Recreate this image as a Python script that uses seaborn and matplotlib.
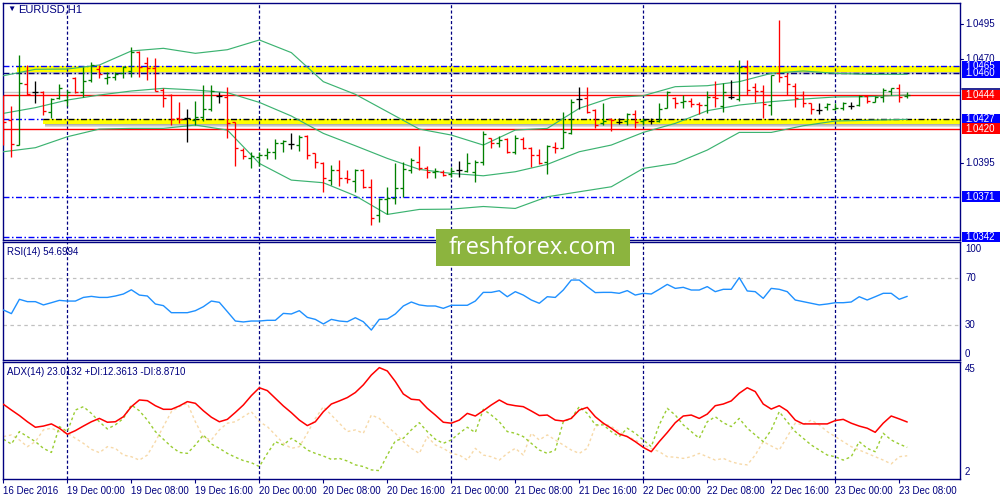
import numpy as np
import matplotlib
matplotlib.use("Agg")
import matplotlib.pyplot as plt
import matplotlib.transforms as mtransforms
from matplotlib.patches import Rectangle
import seaborn as sns

# === Data (EURUSD H1, bars 16 Dec 16:00 .. 23 Dec 09:00)
open_ = [1.04261, 1.04259, 1.04081, 1.04518, 1.04460, 1.04465, 1.04316, 1.04417, 1.04405, 1.04561,
         1.04460, 1.04549, 1.04628, 1.04566, 1.04573, 1.04597, 1.04614, 1.04748, 1.04669, 1.04633,
         1.04477, 1.04441, 1.04273, 1.04278, 1.04261, 1.04285, 1.04340, 1.04436, 1.04429, 1.04249,
         1.04045, 1.03990, 1.03997, 1.04009, 1.04033, 1.04093, 1.04086, 1.04081, 1.04148, 1.04021,
         1.03954, 1.03829, 1.03901, 1.03846, 1.03824, 1.03901, 1.03781, 1.03577, 1.03690, 1.03697,
         1.03769, 1.03899, 1.03961, 1.03918, 1.03884, 1.03889, 1.03870, 1.03901, 1.03894, 1.03889,
         1.03956, 1.04129, 1.04093, 1.04124, 1.04033, 1.04124, 1.04062, 1.04009, 1.03961, 1.04069,
         1.04057, 1.04165, 1.04412, 1.04422, 1.04333, 1.04237, 1.04268, 1.04249, 1.04256, 1.04302,
         1.04254, 1.04254, 1.04254, 1.04350, 1.04422, 1.04388, 1.04398, 1.04374, 1.04369, 1.04429,
         1.04364, 1.04424, 1.04412, 1.04645, 1.04501, 1.04470, 1.04369, 1.04597, 1.04578, 1.04508,
         1.04441, 1.04381, 1.04333, 1.04357, 1.04340, 1.04350, 1.04364, 1.04369, 1.04434, 1.04393,
         1.04429, 1.04470, 1.04494, 1.04431]
high_ = [1.04441, 1.04364, 1.04729, 1.04657, 1.04542, 1.04470, 1.04417, 1.04518, 1.04475, 1.04568,
         1.04645, 1.04676, 1.04657, 1.04604, 1.04604, 1.04650, 1.04784, 1.04760, 1.04717, 1.04705,
         1.04494, 1.04446, 1.04388, 1.04338, 1.04398, 1.04513, 1.04513, 1.04460, 1.04501, 1.04249,
         1.04057, 1.04033, 1.04033, 1.04057, 1.04122, 1.04117, 1.04165, 1.04153, 1.04153, 1.04021,
         1.03961, 1.03937, 1.03973, 1.03901, 1.03906, 1.03906, 1.03834, 1.03697, 1.03781, 1.03954,
         1.03961, 1.03985, 1.04074, 1.03932, 1.03918, 1.03901, 1.03925, 1.03966, 1.04026, 1.03973,
         1.04182, 1.04134, 1.04148, 1.04134, 1.04153, 1.04136, 1.04069, 1.04052, 1.04081, 1.04105,
         1.04316, 1.04412, 1.04501, 1.04501, 1.04338, 1.04381, 1.04278, 1.04273, 1.04309, 1.04333,
         1.04278, 1.04273, 1.04386, 1.04470, 1.04429, 1.04441, 1.04417, 1.04388, 1.04470, 1.04544,
         1.04525, 1.04549, 1.04693, 1.04693, 1.04525, 1.04513, 1.04585, 1.04981, 1.04597, 1.04525,
         1.04470, 1.04386, 1.04381, 1.04381, 1.04386, 1.04388, 1.04393, 1.04441, 1.04441, 1.04436,
         1.04494, 1.04494, 1.04520, 1.04465]
low_ = [1.04081, 1.03997, 1.04081, 1.04441, 1.04386, 1.04297, 1.04278, 1.04412, 1.04364, 1.04458,
        1.04429, 1.04537, 1.04566, 1.04518, 1.04549, 1.04561, 1.04573, 1.04573, 1.04549, 1.04470,
        1.04357, 1.04225, 1.04237, 1.04100, 1.04225, 1.04254, 1.04328, 1.04381, 1.04129, 1.03932,
        1.03978, 1.03918, 1.03932, 1.03978, 1.03978, 1.04033, 1.04050, 1.04038, 1.03980, 1.03918,
        1.03745, 1.03793, 1.03788, 1.03805, 1.03745, 1.03769, 1.03505, 1.03529, 1.03584, 1.03656,
        1.03709, 1.03877, 1.03901, 1.03846, 1.03846, 1.03860, 1.03853, 1.03853, 1.03889, 1.03817,
        1.03937, 1.04057, 1.04069, 1.04021, 1.04014, 1.04050, 1.03925, 1.03944, 1.03875, 1.04021,
        1.04057, 1.04163, 1.04340, 1.04309, 1.04201, 1.04225, 1.04182, 1.04230, 1.04225, 1.04201,
        1.04225, 1.04230, 1.04249, 1.04345, 1.04350, 1.04345, 1.04357, 1.04304, 1.04314, 1.04357,
        1.04316, 1.04410, 1.04398, 1.04441, 1.04388, 1.04278, 1.04297, 1.04537, 1.04441, 1.04357,
        1.04357, 1.04304, 1.04302, 1.04333, 1.04333, 1.04333, 1.04340, 1.04364, 1.04386, 1.04388,
        1.04388, 1.04441, 1.04393, 1.04422]
close_ = [1.04244, 1.04088, 1.04525, 1.04448, 1.04460, 1.04328, 1.04410, 1.04494, 1.04460, 1.04465,
          1.04544, 1.04657, 1.04595, 1.04571, 1.04590, 1.04640, 1.04753, 1.04640, 1.04633, 1.04470,
          1.04422, 1.04268, 1.04268, 1.04278, 1.04285, 1.04340, 1.04470, 1.04436, 1.04237, 1.04057,
          1.04002, 1.03999, 1.04009, 1.04033, 1.04093, 1.04110, 1.04086, 1.04141, 1.04009, 1.03961,
          1.03841, 1.03901, 1.03846, 1.03834, 1.03901, 1.03781, 1.03553, 1.03690, 1.03702, 1.03769,
          1.03908, 1.03971, 1.03913, 1.03889, 1.03894, 1.03865, 1.03894, 1.03901, 1.03949, 1.03961,
          1.04158, 1.04093, 1.04117, 1.04033, 1.04129, 1.04057, 1.04009, 1.03949, 1.04076, 1.04057,
          1.04177, 1.04388, 1.04412, 1.04316, 1.04225, 1.04254, 1.04259, 1.04249, 1.04302, 1.04249,
          1.04261, 1.04254, 1.04338, 1.04460, 1.04381, 1.04398, 1.04374, 1.04369, 1.04429, 1.04422,
          1.04465, 1.04424, 1.04645, 1.04477, 1.04472, 1.04374, 1.04585, 1.04573, 1.04518, 1.04417,
          1.04381, 1.04340, 1.04333, 1.04374, 1.04350, 1.04381, 1.04364, 1.04436, 1.04398, 1.04429,
          1.04477, 1.04489, 1.04429, 1.04441]

# Bollinger bands, read every 4 bars
bb_x = [0, 4, 8, 12, 16, 20, 24, 28, 32, 36, 40, 44, 48, 52, 56, 60, 64, 68, 72, 76,
        80, 84, 88, 92, 96, 100, 104, 108, 113]
bb_upper = [1.04580, 1.04626, 1.04628, 1.04657, 1.04758, 1.04777, 1.04741, 1.04767, 1.04837, 1.04746,
            1.04537, 1.04446, 1.04321, 1.04196, 1.04153, 1.04081, 1.04189, 1.04201, 1.04345, 1.04422,
            1.04436, 1.04501, 1.04508, 1.04537, 1.04597, 1.04614, 1.04597, 1.04590, 1.04590]
bb_middle = [1.04309, 1.04350, 1.04405, 1.04441, 1.04470, 1.04489, 1.04477, 1.04458, 1.04388, 1.04290,
             1.04165, 1.04076, 1.03985, 1.03906, 1.03877, 1.03860, 1.03889, 1.03942, 1.04033, 1.04081,
             1.04172, 1.04237, 1.04328, 1.04369, 1.04393, 1.04412, 1.04427, 1.04429, 1.04441]
bb_lower = [1.04033, 1.04062, 1.04141, 1.04196, 1.04201, 1.04201, 1.04225, 1.04189, 1.03949, 1.03829,
            1.03810, 1.03716, 1.03582, 1.03618, 1.03620, 1.03639, 1.03625, 1.03709, 1.03745, 1.03781,
            1.03913, 1.03949, 1.04045, 1.04172, 1.04172, 1.04220, 1.04254, 1.04259, 1.04266]

rsi = [43.1, 40.0, 52.2, 50.2, 50.2, 47.4, 49.3, 51.3, 50.7, 50.7,
       53.8, 54.7, 53.8, 53.8, 55.0, 56.7, 60.3, 55.8, 55.0, 48.2,
       46.8, 40.8, 40.8, 40.8, 42.5, 45.9, 50.7, 49.6, 41.7, 33.7,
       32.9, 33.7, 33.7, 34.3, 34.3, 40.2, 39.7, 42.5, 36.8, 35.1,
       31.2, 35.1, 33.7, 33.1, 36.5, 33.1, 26.0, 35.1, 35.4, 39.7,
       46.5, 49.9, 47.4, 46.5, 46.5, 44.5, 47.1, 47.1, 47.1, 50.7,
       58.1, 58.1, 59.5, 54.4, 58.7, 55.8, 51.6, 48.8, 54.4, 53.8,
       60.1, 68.6, 68.6, 63.0, 57.9, 58.1, 58.1, 57.3, 59.6, 55.8,
       57.3, 56.7, 60.7, 64.9, 61.5, 62.4, 60.1, 60.1, 63.0, 58.7,
       60.7, 60.7, 70.6, 59.3, 58.7, 53.0, 61.5, 60.7, 58.7, 51.6,
       50.2, 48.8, 47.4, 48.2, 49.3, 49.3, 49.9, 54.4, 51.6, 54.4,
       57.3, 57.3, 52.2, 54.7]

adx = [30.4, 28.0, 25.7, 23.1, 20.8, 21.3, 22.2, 20.4, 17.9, 19.4,
       21.3, 23.1, 24.5, 22.9, 23.1, 25.2, 29.4, 32.2, 31.9, 29.8,
       28.3, 28.3, 29.7, 31.5, 30.8, 27.7, 25.0, 23.1, 24.1, 27.0,
       30.1, 34.0, 37.3, 36.1, 32.9, 29.7, 26.9, 23.8, 21.5, 23.1,
       27.3, 30.5, 31.8, 33.2, 35.3, 38.5, 42.6, 45.7, 44.3, 39.9,
       34.7, 32.5, 32.2, 28.7, 25.9, 22.9, 22.5, 23.8, 26.6, 25.5,
       27.7, 30.1, 32.2, 30.4, 29.8, 29.4, 27.6, 25.7, 25.9, 23.8,
       23.4, 24.5, 28.0, 29.1, 25.2, 22.5, 20.4, 18.0, 16.9, 14.8,
       12.4, 10.6, 14.8, 18.6, 22.7, 25.5, 25.9, 24.5, 26.3, 29.8,
       30.5, 31.8, 35.0, 37.3, 35.7, 30.5, 28.4, 29.8, 27.7, 23.8,
       22.2, 22.2, 22.2, 22.2, 23.6, 24.1, 22.5, 21.3, 20.4, 18.7,
       22.5, 25.5, 24.3, 23.0]
plus_di = [15.8, 13.8, 19.0, 16.9, 14.8, 12.0, 10.3, 21.1, 19.0, 28.0,
           29.4, 26.6, 23.1, 20.1, 21.8, 24.5, 30.1, 27.7, 23.8, 19.0,
           15.8, 12.7, 10.3, 9.9, 13.4, 17.6, 13.8, 12.0, 9.9, 8.3,
           6.9, 6.0, 4.4, 9.9, 14.8, 13.4, 16.2, 14.1, 11.3, 9.9,
           8.8, 7.4, 7.8, 6.7, 5.1, 4.4, 3.0, 2.7, 9.2, 15.1,
           16.2, 19.7, 22.7, 19.0, 15.8, 14.1, 15.5, 18.3, 20.8, 18.6,
           28.3, 25.9, 23.1, 19.0, 18.3, 16.9, 14.1, 11.3, 9.9, 11.3,
           23.1, 24.5, 29.4, 26.6, 21.8, 21.8, 19.0, 16.9, 20.4, 18.3,
           15.5, 12.7, 21.8, 28.7, 25.9, 21.8, 19.0, 16.2, 23.1, 25.2,
           22.7, 21.1, 24.5, 20.4, 17.6, 14.8, 19.7, 27.3, 23.1, 19.0,
           16.2, 13.4, 11.3, 9.2, 8.5, 7.1, 8.5, 14.8, 12.0, 10.6,
           18.3, 15.5, 13.8, 12.4]
minus_di = [16.9, 17.6, 15.5, 12.7, 14.8, 19.7, 20.4, 19.0, 18.3, 16.2,
            14.1, 11.6, 10.2, 12.7, 12.0, 9.2, 8.5, 7.1, 9.2, 14.8,
            21.1, 27.3, 29.4, 30.8, 23.1, 16.6, 15.5, 19.7, 22.5, 23.1,
            25.2, 27.3, 23.1, 21.1, 17.6, 14.1, 12.0, 12.7, 18.3, 24.5,
            29.4, 25.9, 22.5, 19.0, 19.7, 18.3, 25.9, 24.5, 21.1, 18.3,
            14.8, 12.0, 9.9, 16.9, 13.4, 12.0, 9.9, 9.2, 7.1, 12.0,
            9.2, 8.5, 7.1, 9.9, 12.0, 9.2, 18.3, 15.5, 17.6, 15.5,
            13.4, 11.3, 9.9, 12.0, 21.1, 22.5, 21.1, 19.0, 16.9, 15.5,
            13.4, 12.0, 10.6, 8.5, 8.3, 7.8, 8.5, 9.9, 8.5, 7.1,
            7.8, 6.4, 5.5, 5.1, 9.2, 14.8, 13.0, 11.3, 16.9, 22.5,
            21.8, 23.8, 21.8, 19.0, 16.9, 14.8, 12.7, 11.3, 9.9, 8.5,
            7.1, 5.5, 8.5, 8.9]

tick_pos = list(range(0, 113, 8))
tick_labels = ["16 Dec 2016", "19 Dec 00:00", "19 Dec 08:00", "19 Dec 16:00",
               "20 Dec 00:00", "20 Dec 08:00", "20 Dec 16:00", "21 Dec 00:00",
               "21 Dec 08:00", "21 Dec 16:00", "22 Dec 00:00", "22 Dec 08:00",
               "22 Dec 16:00", "23 Dec 00:00", "23 Dec 08:00"]
day_starts = [8, 32, 56, 80, 104]

# horizontal levels drawn on the chart
blue_levels = [1.0465, 1.0371, 1.0342]
navy_level = 1.0460
red_levels = [1.0444, 1.0420]
support_level = 1.0427
ask_price = 1.04461
price_ticks = [1.0495, 1.0470, 1.0395]

# === Style
sns.set_style("white")
plt.rcParams['font.family'] = ['Liberation Sans', 'DejaVu Sans']
plt.rcParams['lines.scale_dashes'] = False

NAVY = "#000080"
GREEN = "#008000"
RED = "#ff0000"
BLUE = "#0000ff"
BB_COLOR = "#3cb371"
DASHDOT = (0, (4.3, 1.8, 1.1, 1.8))
VDASH = (0, (2.2, 1.6))

fig = plt.figure(figsize=(10, 5), dpi=100)
ax = fig.add_axes([0.003, 0.52, 0.957, 0.474])
ax_rsi = fig.add_axes([0.003, 0.28, 0.957, 0.236])
ax_adx = fig.add_axes([0.003, 0.042, 0.957, 0.234])

XMAX = 119.6
for a in (ax, ax_rsi, ax_adx):
    a.set_xlim(-0.05, XMAX)
    a.set_yticks([])
    a.set_xticks([])
    for s in a.spines.values():
        s.set_color(NAVY)
        s.set_linewidth(1.0)
    for d in day_starts:
        a.axvline(d, color=NAVY, lw=0.9, ls=VDASH, zorder=2)

ax.set_ylim(1.03398, 1.05103)
ax_rsi.set_ylim(0.5, 101)
ax_adx.set_ylim(-0.8, 48.05)


def shadow(a, x0, top, depth, steps=7):
    for k in range(steps):
        hi = top - depth * k / steps
        lo = top - depth * (k + 1) / steps
        a.fill_between([x0, XMAX], lo, hi, color="#606060",
                       alpha=0.5 * (1 - k / steps), lw=0, zorder=1)


# === Zones (yellow rectangles with shadow)
ax.fill_between([1.75, XMAX], 1.04608, 1.0465, color="#ffff00", lw=0, zorder=1)
shadow(ax, 2.0, 1.04608, 0.00026)
ax.fill_between([5.0, XMAX], 1.04230, support_level, color="#ffff00", lw=0, zorder=1)
shadow(ax, 5.2, 1.04230, 0.00022)

# === Levels
for lv in blue_levels:
    ax.axhline(lv, color=BLUE, lw=1.0, ls=DASHDOT, zorder=2)
ax.axhline(navy_level, color=NAVY, lw=1.0, ls=DASHDOT, zorder=2)
ax.plot([-0.05, 5.0], [support_level] * 2, color=BLUE, lw=1.0, ls=DASHDOT, zorder=2)
ax.plot([5.0, XMAX], [support_level] * 2, color="black", lw=1.0, ls=DASHDOT, zorder=2)
for lv in red_levels:
    ax.axhline(lv, color=RED, lw=1.0, zorder=2)
ax.axhline(ask_price, color="#c8c8c8", lw=1.0, zorder=2)

# === Bollinger bands
for band in (bb_upper, bb_middle, bb_lower):
    sns.lineplot(x=bb_x, y=band, ax=ax, color=BB_COLOR, lw=0.85, zorder=3)

# === OHLC bars
idx = np.arange(len(close_))
o, h, l, c = map(np.array, (open_, high_, low_, close_))
cols = [GREEN if cc > oo else (RED if cc < oo else "black") for oo, cc in zip(o, c)]
ax.vlines(idx, l, h, colors=cols, lw=0.95, zorder=4)
ax.hlines(o, idx - 0.38, idx, colors=cols, lw=0.95, zorder=4)
ax.hlines(c, idx, idx + 0.38, colors=cols, lw=0.95, zorder=4)

# === Right-hand price scale
blend = mtransforms.blended_transform_factory(fig.transFigure, ax.transData)
for v in price_ticks:
    ax.plot([0.960, 0.963], [v, v], color=NAVY, lw=0.8, transform=blend, clip_on=False)
    ax.text(0.965, v, f"{v:.4f}", transform=blend, color=NAVY, fontsize=7,
            va="center", ha="left", clip_on=False, zorder=5)

box_h = 10.5 / 13900
ax.plot([0.962, 1.0], [1.04485, 1.04485], color=NAVY, lw=1.2, transform=blend, clip_on=False)
boxes = [(1.0465, BLUE), (1.0460, BLUE), (1.0444, RED), (1.0427, BLUE), (1.0420, RED),
         (1.0371, BLUE), (1.0342, BLUE)]
for k, (v, col) in enumerate(boxes):
    ax.add_patch(Rectangle((0.962, v - box_h / 2), 0.04, box_h, transform=blend,
                           facecolor=col, edgecolor="none", clip_on=False, zorder=6 + k))
    ax.text(0.965, v, f"{v:.4f}", transform=blend, color="white", fontsize=7,
            va="center", ha="left", clip_on=False, zorder=6 + k)

# === RSI panel
sns.lineplot(x=idx, y=rsi, ax=ax_rsi, color="#1e90ff", lw=1.0, zorder=3)
for lv in (70, 30):
    ax_rsi.axhline(lv, color="#c0c0c0", lw=0.9, ls=(0, (2.5, 2.5)), zorder=1)
blend_rsi = mtransforms.blended_transform_factory(fig.transFigure, ax_rsi.transData)
for v, txt in [(95, "100"), (70, "70"), (30, "30"), (6, "0")]:
    ax_rsi.text(0.965, v, txt, transform=blend_rsi, color=NAVY, fontsize=7,
                va="center", ha="left", clip_on=False)

# === ADX panel
sns.lineplot(x=idx, y=minus_di, ax=ax_adx, color="#f7d9a8", lw=1.0, zorder=2)
sns.lineplot(x=idx, y=plus_di, ax=ax_adx, color="#9acd32", lw=1.0, zorder=2)
sns.lineplot(x=idx, y=adx, ax=ax_adx, color=RED, lw=1.1, zorder=3)
ax_adx.lines[-2].set_linestyle((0, (2, 2)))
ax_adx.lines[-3].set_linestyle((0, (2, 2)))
blend_adx = mtransforms.blended_transform_factory(fig.transFigure, ax_adx.transData)
for v in (45, 2):
    ax_adx.text(0.965, v, str(v), transform=blend_adx, color=NAVY, fontsize=7,
                va="center", ha="left", clip_on=False)

ax_adx.set_xticks(tick_pos)
ax_adx.set_xticklabels(tick_labels, ha="left", fontsize=7, color=NAVY)
ax_adx.tick_params(axis="x", direction="out", length=3, width=0.8, color=NAVY, pad=2, bottom=True)

for a in (ax, ax_rsi, ax_adx):
    a.set_xlabel("")
    a.set_ylabel("")

# === Titles
fig.text(0.007, 0.981, "\u25bc", fontsize=6, color=NAVY, va="center", ha="left")
fig.text(0.018, 0.981, "EURUSD,H1", fontsize=8, color=NAVY, va="center", ha="left")
fig.text(0.007, 0.496, "RSI(14) 54.6994", fontsize=7, color=NAVY, va="center", ha="left")
fig.text(0.007, 0.256, "ADX(14) 23.0132 +DI:12.3613 -DI:8.8710", fontsize=7, color=NAVY,
         va="center", ha="left")

# === Watermark
fig.add_artist(Rectangle((0.436, 0.468), 0.194, 0.074, transform=fig.transFigure,
                         facecolor="#8cb43e", edgecolor="none", zorder=10))
fig.text(0.533, 0.505, "freshforex.com", fontsize=17, color="white", family="Open Sans",
         ha="center", va="center", zorder=11)

fig.savefig("out.png", dpi=100, facecolor="white")
